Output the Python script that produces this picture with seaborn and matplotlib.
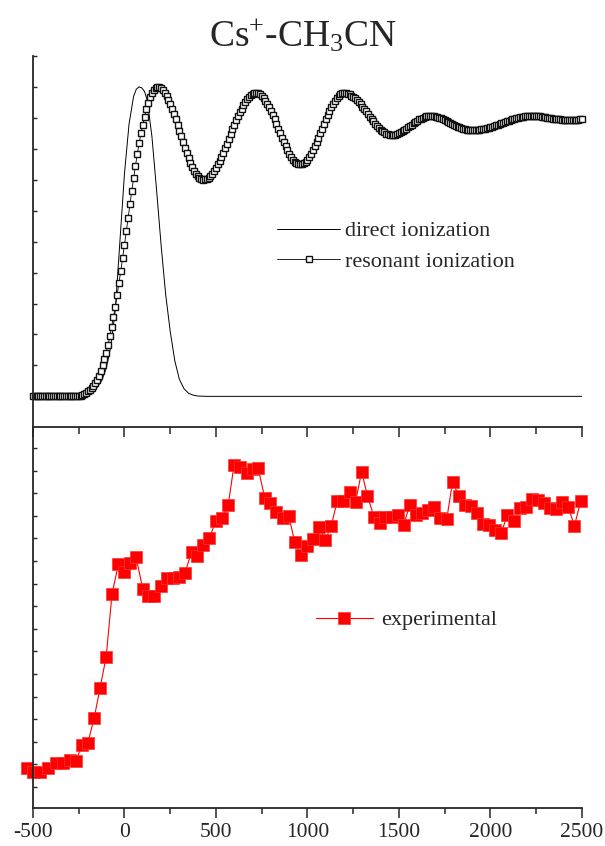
import matplotlib
matplotlib.use("Agg")
import matplotlib.pyplot as plt
from matplotlib.ticker import MultipleLocator
import seaborn as sns

sns.set_style("ticks")
plt.rcParams["font.family"] = ["Liberation Serif", "DejaVu Serif"]
plt.rcParams["mathtext.fontset"] = "custom"
plt.rcParams["mathtext.rm"] = "Liberation Serif"
plt.rcParams["mathtext.it"] = "Liberation Serif:italic"

### Data (delay in fs, signal in arb. units)
direct_delay = [-500, -250, -225, -200, -175, -150, -125, -100, -75, -50, -25, 0, 25, 50, 65,
                80, 95, 110, 125, 150, 175, 200, 225, 250, 275, 300, 325, 350, 375, 400, 450, 2500]
direct_signal = [0, 0, 0.002, 0.006, 0.014, 0.028, 0.05, 0.09, 0.16, 0.28, 0.50, 0.72, 0.88, 0.97,
                 0.993, 1.0, 0.997, 0.985, 0.955, 0.84, 0.67, 0.49, 0.33, 0.21, 0.115, 0.055, 0.025,
                 0.01, 0.004, 0.001, 0, 0]

# resonant ionization sampled every 10 fs from -500 to 2500
res_delay = list(range(-500, 2510, 10))
res_signal = (
    [0.0] * 25
    + [0.000, 0.001, 0.003, 0.007, 0.011, 0.017, 0.022, 0.028, 0.035, 0.044,
       0.054, 0.067, 0.083, 0.101, 0.120, 0.141, 0.166, 0.194, 0.225, 0.257,
       0.290, 0.328, 0.366, 0.406, 0.447, 0.490, 0.534, 0.578, 0.622, 0.664,
       0.705, 0.745, 0.783, 0.818, 0.850, 0.878, 0.904, 0.928, 0.948, 0.966,
       0.980, 0.990, 0.997, 1.000]
    + [0.999, 0.995, 0.990, 0.981, 0.972, 0.959, 0.946, 0.930, 0.914, 0.897,
       0.878, 0.859, 0.841, 0.822, 0.804, 0.786, 0.770, 0.754, 0.741, 0.729,
       0.719, 0.711, 0.705, 0.701, 0.700]
    + [0.701, 0.703, 0.707, 0.713, 0.720, 0.729, 0.738, 0.750, 0.762, 0.775,
       0.788, 0.802, 0.817, 0.832, 0.848, 0.863, 0.878, 0.892, 0.906, 0.918,
       0.930, 0.942, 0.951, 0.960, 0.967, 0.973, 0.977, 0.979, 0.980]
    + [0.979, 0.976, 0.971, 0.965, 0.956, 0.946, 0.935, 0.923, 0.909, 0.895,
       0.880, 0.865, 0.850, 0.835, 0.821, 0.808, 0.795, 0.784, 0.774, 0.765,
       0.759, 0.754, 0.751, 0.750]
    + [0.751, 0.754, 0.759, 0.765, 0.774, 0.784, 0.795, 0.808, 0.821, 0.835,
       0.850, 0.865, 0.880, 0.895, 0.909, 0.923, 0.935, 0.946, 0.956, 0.965,
       0.971, 0.976, 0.979, 0.980]
    + [0.979, 0.978, 0.976, 0.972, 0.968, 0.963, 0.957, 0.951, 0.944, 0.936,
       0.929, 0.921, 0.913, 0.904, 0.896, 0.889, 0.881, 0.874, 0.868, 0.862,
       0.857, 0.853, 0.849, 0.847, 0.846, 0.845]
    + [0.845, 0.846, 0.848, 0.850, 0.853, 0.856, 0.860, 0.864, 0.869, 0.873,
       0.878, 0.882, 0.887, 0.891, 0.895, 0.898, 0.901, 0.903, 0.905, 0.906,
       0.906]
    + [0.906, 0.905, 0.904, 0.903, 0.901, 0.899, 0.896, 0.894, 0.891, 0.888,
       0.885, 0.881, 0.878, 0.875, 0.872, 0.870, 0.867, 0.865, 0.863, 0.862,
       0.861, 0.860, 0.860]
    + [0.860, 0.860, 0.861, 0.862, 0.863, 0.864, 0.865, 0.867, 0.868, 0.870,
       0.872, 0.874, 0.876, 0.878, 0.880, 0.882, 0.885, 0.887, 0.889, 0.891,
       0.893, 0.895, 0.897, 0.899, 0.900, 0.902, 0.903, 0.904, 0.905, 0.906,
       0.907, 0.907, 0.907]
    + [0.907, 0.906, 0.906, 0.905, 0.904, 0.903, 0.902, 0.901, 0.900, 0.899,
       0.898, 0.897, 0.896, 0.896, 0.895, 0.894, 0.894, 0.893, 0.893, 0.893,
       0.893, 0.893, 0.893, 0.894, 0.894, 0.895, 0.896]
)

exp_delay = [-533, -500, -460, -420, -375, -335, -298, -264, -233, -200,
             -166, -133, -100, -68, -33, 0, 31, 63, 100, 130,
             163, 198, 231, 267, 299, 330, 367, 398, 430, 463,
             500, 531, 567, 599, 630, 667, 700, 730, 767, 798,
             830, 866, 898, 930, 963, 997, 1030, 1063, 1098, 1130,
             1163, 1194, 1230, 1263, 1296, 1328, 1363, 1394, 1426, 1461,
             1494, 1526, 1559, 1594, 1627, 1661, 1694, 1726, 1761, 1793,
             1826, 1859, 1894, 1926, 1961, 1994, 2026, 2059, 2093, 2126,
             2161, 2194, 2226, 2259, 2293, 2326, 2360, 2393, 2426, 2459, 2494]
exp_signal = [0.082, 0.066, 0.066, 0.082, 0.104, 0.104, 0.118, 0.115, 0.185, 0.195,
              0.303, 0.439, 0.576, 0.854, 0.986, 0.950, 0.990, 1.020, 0.876, 0.845,
              0.845, 0.891, 0.924, 0.924, 0.931, 0.946, 1.042, 1.023, 1.071, 1.101,
              1.178, 1.190, 1.249, 1.426, 1.418, 1.389, 1.407, 1.414, 1.278, 1.256,
              1.219, 1.191, 1.200, 1.086, 1.027, 1.067, 1.097, 1.152, 1.094, 1.156,
              1.268, 1.268, 1.308, 1.263, 1.396, 1.289, 1.197, 1.168, 1.197, 1.197,
              1.204, 1.160, 1.249, 1.204, 1.215, 1.227, 1.238, 1.190, 1.185, 1.352,
              1.289, 1.249, 1.244, 1.215, 1.164, 1.160, 1.138, 1.126, 1.204, 1.179,
              1.234, 1.238, 1.274, 1.271, 1.259, 1.234, 1.230, 1.263, 1.238, 1.156, 1.268]

xticks = [-500, 0, 500, 1000, 1500, 2000, 2500]
xtick_labels = ["-500", "0", "500", "1000", "1500", "2000", "2500"]

fig = plt.figure(figsize=(6.05, 8.46), dpi=100)
ax_top = fig.add_axes([0.0545, 0.4953, 0.9074, 0.4385])
ax_bot = fig.add_axes([0.0545, 0.0449, 0.9074, 0.4504])

# Top panel: theory
sns.lineplot(x=direct_delay, y=direct_signal, ax=ax_top, color="black", linewidth=0.7,
             label="direct ionization")
sns.lineplot(x=res_delay, y=res_signal, ax=ax_top, color="black", linewidth=0.6, marker="s",
             markersize=4.6, markerfacecolor="white", markeredgecolor="#111111",
             markeredgewidth=1.0, label="resonant ionization", clip_on=False)
ax_top.set_xlim(-500, 2500)
ax_top.set_ylim(-0.099, 1.10)
for s in ["top", "right", "bottom"]:
    ax_top.spines[s].set_visible(False)
ax_top.spines["left"].set_linewidth(1.3)
ax_top.set_xticks([])
ax_top.yaxis.set_major_locator(MultipleLocator(0.1))
ax_top.tick_params(axis="y", direction="in", length=3, width=1, labelleft=False)
ax_top.set_xlabel("")
ax_top.set_ylabel("")
ax_top.legend(loc="center left", bbox_to_anchor=(0.4444, 0.4865), frameon=False, fontsize=16,
              handlelength=2.85, handletextpad=0.23, labelspacing=0.45, borderpad=0,
              borderaxespad=0)

# Bottom panel: experiment
sns.lineplot(x=exp_delay, y=exp_signal, ax=ax_bot, color="red", linewidth=0.8, marker="s",
             markersize=9, markerfacecolor="red", markeredgecolor="#ff3333",
             markeredgewidth=0.5, label="experimental", clip_on=False)
ax_bot.set_xlim(-500, 2500)
ax_bot.set_ylim(-0.094, 1.594)
for s in ["right", "top"]:
    ax_bot.spines[s].set_visible(False)
for s in ["left", "bottom"]:
    ax_bot.spines[s].set_linewidth(1.3)
ax_bot.set_xticks(xticks)
ax_bot.set_xticklabels(xtick_labels)
ax_bot.xaxis.set_minor_locator(MultipleLocator(250))
ax_bot.tick_params(axis="x", which="major", direction="out", length=7.5, width=1.1,
                   labelsize=15.5, pad=3)
ax_bot.tick_params(axis="x", which="minor", direction="out", length=4.5, width=1.1)
ax_bot.yaxis.set_major_locator(MultipleLocator(0.1))
ax_bot.tick_params(axis="y", direction="in", length=3, width=1, labelleft=False)
ax_bot.set_xlabel("")
ax_bot.set_ylabel("")

top = ax_bot.secondary_xaxis("top")
top.set_xticks(xticks)
top.xaxis.set_minor_locator(MultipleLocator(250))
top.tick_params(axis="x", which="major", direction="in", length=7.5, width=1.1, labeltop=False)
top.tick_params(axis="x", which="minor", direction="in", length=5, width=1.1)
top.spines["top"].set_linewidth(1.3)

ax_bot.legend(loc="center left", bbox_to_anchor=(0.5155, 0.4934), frameon=False, fontsize=16,
              handlelength=2.55, handletextpad=0.37, borderpad=0, borderaxespad=0)

fig.text(0.5, 1 - 47 / 846, r"Cs$^{+}$-CH$_{3}$CN", ha="center", va="baseline", fontsize=27)

fig.savefig("out.png", dpi=100)
